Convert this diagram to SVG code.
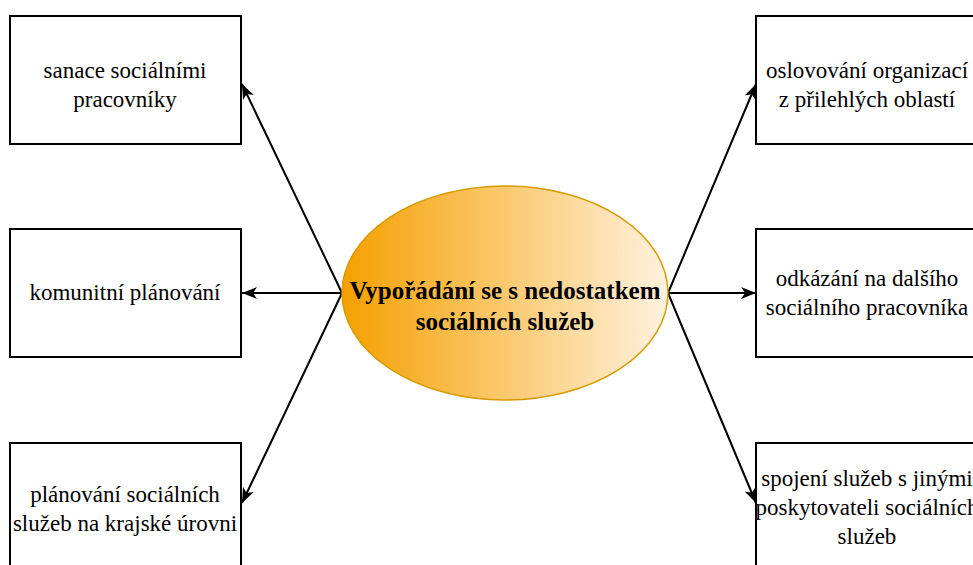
<svg xmlns="http://www.w3.org/2000/svg" width="973" height="565" viewBox="0 0 973 565">
<defs>
<linearGradient id="g" x1="0" y1="0" x2="1" y2="0">
<stop offset="0" stop-color="#F5A000"/>
<stop offset="1" stop-color="#FFF2DF"/>
</linearGradient>
<marker id="ah" markerWidth="16" markerHeight="16" viewBox="0 0 16 16" refX="15" refY="8" orient="auto" markerUnits="userSpaceOnUse">
<path d="M0,2 L15,8 L0,14 L4,8 Z" fill="#000"/>
</marker>
</defs>
<style>
.box{fill:#fff;stroke:#000;stroke-width:2}
.t{font-family:"Liberation Serif","Times New Roman",serif;font-size:23px;fill:#000;text-anchor:middle}
.c{font-family:"Liberation Serif","Times New Roman",serif;font-size:25px;font-weight:bold;fill:#000;text-anchor:middle}
.e{stroke:#000;stroke-width:2;fill:none;marker-end:url(#ah)}
</style>
<rect width="973" height="565" fill="#fff"/>
<g id="connectors">
<line class="e" x1="342" y1="293" x2="242" y2="84"/>
<line class="e" x1="342" y1="293" x2="242" y2="293"/>
<line class="e" x1="342" y1="293" x2="242" y2="503"/>
<line class="e" x1="668" y1="293" x2="756" y2="84"/>
<line class="e" x1="668" y1="293" x2="756" y2="293"/>
<line class="e" x1="668" y1="293" x2="756" y2="503"/>
</g>
<g id="center">
<ellipse cx="505" cy="293" rx="163" ry="107" fill="url(#g)" stroke="#D79B00" stroke-width="1.5"/>
<text class="c" x="505" y="299">Vypořádání se s nedostatkem</text>
<text class="c" x="505" y="330">sociálních služeb</text>
</g>
<g id="n1">
<rect class="box" x="10" y="16" width="231" height="128"/>
<text class="t" x="125" y="78">sanace sociálními</text>
<text class="t" x="125" y="107">pracovníky</text>
</g>
<g id="n2">
<rect class="box" x="10" y="229" width="231" height="128"/>
<text class="t" x="125" y="300">komunitní plánování</text>
</g>
<g id="n3">
<rect class="box" x="10" y="443" width="231" height="140"/>
<text class="t" x="125" y="502">plánování sociálních</text>
<text class="t" x="125" y="531">služeb na krajské úrovni</text>
</g>
<g id="n4">
<rect class="box" x="756" y="16" width="222" height="128"/>
<text class="t" x="867" y="78">oslovování organizací</text>
<text class="t" x="867" y="107">z přilehlých oblastí</text>
</g>
<g id="n5">
<rect class="box" x="756" y="229" width="222" height="128"/>
<text class="t" x="867" y="286">odkázání na dalšího</text>
<text class="t" x="867" y="315">sociálního pracovníka</text>
</g>
<g id="n6">
<rect class="box" x="756" y="443" width="222" height="140"/>
<text class="t" x="867" y="486">spojení služeb s jinými</text>
<text class="t" x="867" y="515">poskytovateli sociálních</text>
<text class="t" x="867" y="544">služeb</text>
</g>
</svg>
